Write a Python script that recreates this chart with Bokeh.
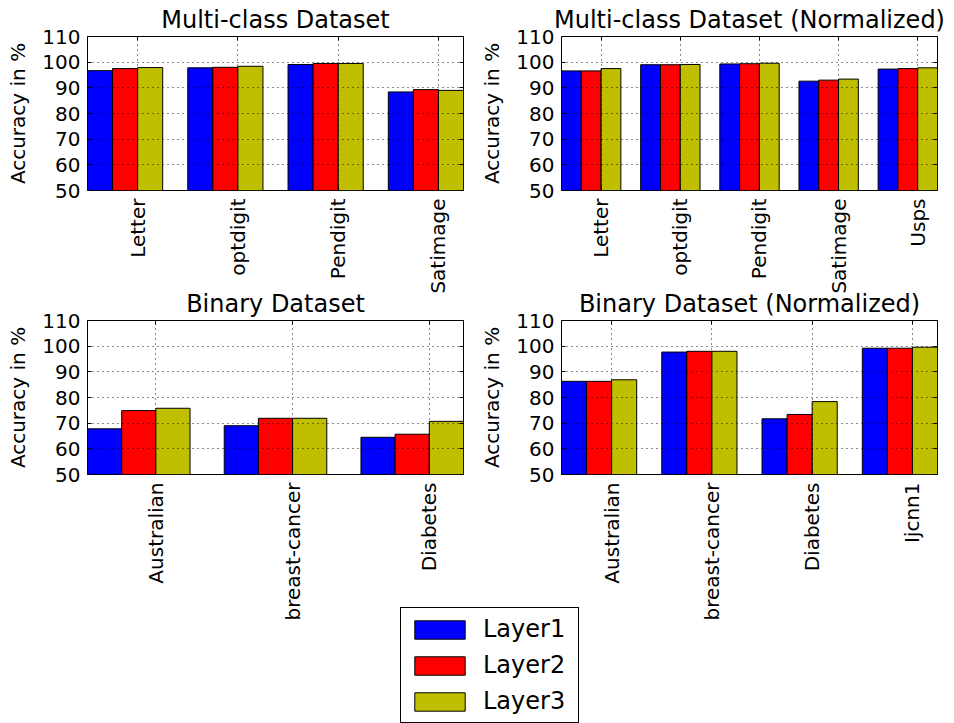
import math
from bokeh.plotting import figure
from bokeh.models import (FixedTicker, Range1d, LinearAxis, ColumnDataSource,
                          Legend, LegendItem)
from bokeh.layouts import column, row
from bokeh.embed import file_html
from bokeh.resources import INLINE

FONT = "DejaVu Sans"

# ---- data -------------------------------------------------------------
multi_cats = ["Letter", "optdigit", "Pendigit", "Satimage"]
multi_l1 = [96.7, 97.8, 99.1, 88.4]
multi_l2 = [97.5, 98.0, 99.5, 89.3]
multi_l3 = [97.9, 98.4, 99.5, 89.0]

multin_cats = ["Letter", "optdigit", "Pendigit", "Satimage", "Usps"]
multin_l1 = [96.6, 99.0, 99.3, 92.6, 97.3]
multin_l2 = [96.6, 99.0, 99.4, 93.0, 97.5]
multin_l3 = [97.5, 99.1, 99.6, 93.4, 97.8]

bin_cats = ["Australian", "breast-cancer", "Diabetes"]
bin_l1 = [67.8, 69.0, 64.5]
bin_l2 = [74.9, 71.9, 65.7]
bin_l3 = [75.8, 71.9, 70.7]

binn_cats = ["Australian", "breast-cancer", "Diabetes", "Ijcnn1"]
binn_l1 = [86.3, 97.7, 71.7, 99.2]
binn_l2 = [86.3, 98.0, 73.4, 99.2]
binn_l3 = [86.9, 98.0, 78.4, 99.6]

series_names = ["Layer1", "Layer2", "Layer3"]
series_colors = ["#0000ff", "#ff0000", "#bfbf00"]
y_ticks = [50, 60, 70, 80, 90, 100, 110]
y_min, y_max = 50, 110
bar_width = 0.25


def make_panel(title, cats, series, w, h, mb_left, mb_right, mb_top, mb_bottom,
               transparent=False):
    n = len(cats)
    p = figure(width=w, height=h, output_backend="svg",
               toolbar_location=None,
               x_range=Range1d(0, n - bar_width), y_range=Range1d(y_min, y_max),
               min_border_left=mb_left, min_border_right=mb_right,
               min_border_top=mb_top, min_border_bottom=mb_bottom,
               title=title)
    if transparent:
        p.border_fill_alpha = 0
    p.title.text_font = FONT
    p.title.text_font_size = "24px"
    p.title.text_font_style = "normal"
    p.title.text_color = "black"
    p.title.align = "center"
    p.title.standoff = 5
    p.outline_line_color = "black"
    p.outline_line_alpha = 1
    p.outline_line_width = 1

    for k, vals in enumerate(series):
        src = ColumnDataSource(dict(x=[i + bar_width * (k + 0.5) for i in range(n)],
                                    top=vals))
        p.vbar(x="x", top="top", bottom=0, width=bar_width, source=src,
               fill_color=series_colors[k], line_color="black", line_width=1)

    xt = FixedTicker(ticks=[i + 0.5 for i in range(n)])
    yt = FixedTicker(ticks=y_ticks)
    p.xaxis.ticker = xt
    p.yaxis.ticker = yt
    p.xgrid.ticker = xt
    p.ygrid.ticker = yt
    p.xaxis.major_label_overrides = {i + 0.5: c for i, c in enumerate(cats)}
    p.xaxis.major_label_orientation = math.pi / 2
    p.yaxis.axis_label = "Accuracy in %"
    for ax in (p.xaxis[0], p.yaxis[0]):
        ax.axis_line_color = None
        ax.major_tick_in = 4
        ax.major_tick_out = 0
        ax.minor_tick_line_color = None
        ax.major_tick_line_color = "black"
        ax.major_label_text_font = FONT
        ax.major_label_text_font_size = "20px"
        ax.major_label_text_color = "black"
    p.xaxis.major_label_standoff = 8
    p.yaxis.major_label_standoff = 7
    p.yaxis.axis_label_text_font = FONT
    p.yaxis.axis_label_text_font_size = "20px"
    p.yaxis.axis_label_text_font_style = "normal"
    p.yaxis.axis_label_text_color = "black"
    p.yaxis.axis_label_standoff = 9

    for g in (p.xgrid[0], p.ygrid[0]):
        g.grid_line_color = "black"
        g.grid_line_alpha = 0.9
        g.grid_line_dash = "1 4"
        g.grid_line_width = 1
        g.level = "overlay"

    for loc, tk in (("right", yt), ("above", xt)):
        ax = LinearAxis(ticker=tk, major_label_text_font_size="0px",
                        major_label_standoff=0, major_tick_in=4, major_tick_out=0,
                        minor_tick_line_color=None, axis_line_color=None,
                        major_tick_line_color="black")
        p.add_layout(ax, loc)
    return p


f1 = make_panel("Multi-class Dataset", multi_cats,
                [multi_l1, multi_l2, multi_l3], 477, 296, 87, 14, 36, 106)
f2 = make_panel("Multi-class Dataset (Normalized)", multin_cats,
                [multin_l1, multin_l2, multin_l3], 468, 296, 84, 8, 36, 106)
f3 = make_panel("Binary Dataset", bin_cats,
                [bin_l1, bin_l2, bin_l3], 477, 346, 87, 14, 36, 156,
                transparent=True)
f4 = make_panel("Binary Dataset (Normalized)", binn_cats,
                [binn_l1, binn_l2, binn_l3], 468, 346, 84, 8, 36, 156,
                transparent=True)

# ---- legend (own transparent canvas, pulled up over the bottom row) ----
leg = figure(width=190, height=116, output_backend="svg", toolbar_location=None,
             x_range=Range1d(0, 1), y_range=Range1d(0, 1),
             x_axis_type=None, y_axis_type=None, min_border=0,
             outline_line_color=None, background_fill_alpha=0,
             border_fill_alpha=0, margin=(-23, 0, 0, 400))
items = []
for name, color in zip(series_names, series_colors):
    # placeholder bar outside the visible range; only its legend swatch is shown
    src = ColumnDataSource(dict(x=[5.0], top=[1.0]))
    r = leg.vbar(x="x", top="top", width=0.1, source=src, fill_color=color,
                 line_color="black", line_width=1)
    items.append(LegendItem(label=name, renderers=[r]))
legend = Legend(items=items, location="top_left", margin=0, padding=7,
                spacing=8, glyph_width=63, glyph_height=23, label_standoff=12,
                label_width=88,
                label_text_font=FONT, label_text_font_size="24px",
                label_text_color="black",
                label_height=18, border_line_color="black",
                border_line_alpha=1, border_line_width=1,
                background_fill_color="white", background_fill_alpha=1)
leg.add_layout(legend)

layout = column(row(f1, f2), row(f3, f4, margin=(-12, 0, 0, 0)), leg)

open("out.html", "w").write(file_html(layout, INLINE))
